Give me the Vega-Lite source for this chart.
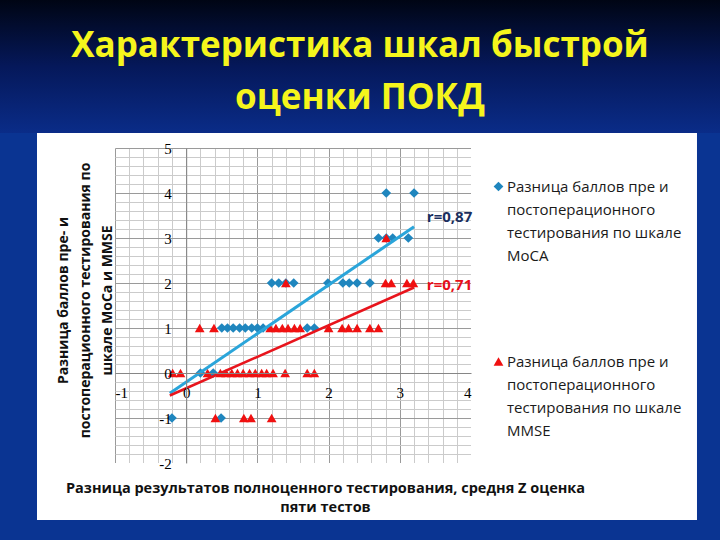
{
  "$schema": "https://vega.github.io/schema/vega-lite/v6.json",
  "width": 356,
  "height": 315,
  "autosize": "none",
  "padding": {"left": 115, "top": 148, "right": 249, "bottom": 77},
  "background": "#0a3492",
  "config": {"view": {"fill": "white", "stroke": null}, "style": {"guide-label": {"lineHeight": 23}}},
  "title": {
    "text": ["Характеристика шкал быстрой", "оценки  ПОКД"],
    "color": "#f5f51c",
    "font": "Open Sans",
    "fontWeight": "bold",
    "fontSize": 35,
    "lineHeight": 52,
    "anchor": "middle",
    "dx": 67,
    "offset": -116
  },
  "datasets": {
    "pts": [
      {"x": 2.81, "y": 4, "series": "MoCA"}, {"x": 3.20, "y": 4, "series": "MoCA"},
      {"x": 2.70, "y": 3, "series": "MoCA"}, {"x": 2.81, "y": 3, "series": "MoCA"}, {"x": 2.90, "y": 3, "series": "MoCA"}, {"x": 3.12, "y": 3, "series": "MoCA"},
      {"x": 1.20, "y": 2, "series": "MoCA"}, {"x": 1.30, "y": 2, "series": "MoCA"}, {"x": 1.40, "y": 2, "series": "MoCA"}, {"x": 1.51, "y": 2, "series": "MoCA"},
      {"x": 1.99, "y": 2, "series": "MoCA"}, {"x": 2.20, "y": 2, "series": "MoCA"}, {"x": 2.29, "y": 2, "series": "MoCA"}, {"x": 2.40, "y": 2, "series": "MoCA"}, {"x": 2.58, "y": 2, "series": "MoCA"},
      {"x": 0.50, "y": 1, "series": "MoCA"}, {"x": 0.58, "y": 1, "series": "MoCA"}, {"x": 0.66, "y": 1, "series": "MoCA"}, {"x": 0.75, "y": 1, "series": "MoCA"}, {"x": 0.83, "y": 1, "series": "MoCA"},
      {"x": 0.92, "y": 1, "series": "MoCA"}, {"x": 1.00, "y": 1, "series": "MoCA"}, {"x": 1.08, "y": 1, "series": "MoCA"}, {"x": 1.70, "y": 1, "series": "MoCA"}, {"x": 1.80, "y": 1, "series": "MoCA"},
      {"x": 0.20, "y": 0, "series": "MoCA"}, {"x": 0.38, "y": 0, "series": "MoCA"},
      {"x": -0.20, "y": -1, "series": "MoCA"}, {"x": 0.49, "y": -1, "series": "MoCA"},
      {"x": 2.81, "y": 3, "series": "MMSE"},
      {"x": 1.40, "y": 2, "series": "MMSE"}, {"x": 2.80, "y": 2, "series": "MMSE"}, {"x": 2.88, "y": 2, "series": "MMSE"}, {"x": 3.10, "y": 2, "series": "MMSE"}, {"x": 3.19, "y": 2, "series": "MMSE"},
      {"x": 0.19, "y": 1, "series": "MMSE"}, {"x": 0.39, "y": 1, "series": "MMSE"}, {"x": 1.18, "y": 1, "series": "MMSE"}, {"x": 1.26, "y": 1, "series": "MMSE"}, {"x": 1.35, "y": 1, "series": "MMSE"},
      {"x": 1.43, "y": 1, "series": "MMSE"}, {"x": 1.52, "y": 1, "series": "MMSE"}, {"x": 1.60, "y": 1, "series": "MMSE"}, {"x": 2.00, "y": 1, "series": "MMSE"}, {"x": 2.19, "y": 1, "series": "MMSE"},
      {"x": 2.28, "y": 1, "series": "MMSE"}, {"x": 2.40, "y": 1, "series": "MMSE"}, {"x": 2.58, "y": 1, "series": "MMSE"}, {"x": 2.70, "y": 1, "series": "MMSE"},
      {"x": -0.19, "y": 0, "series": "MMSE"}, {"x": -0.08, "y": 0, "series": "MMSE"}, {"x": 0.30, "y": 0, "series": "MMSE"}, {"x": 0.48, "y": 0, "series": "MMSE"}, {"x": 0.56, "y": 0, "series": "MMSE"},
      {"x": 0.64, "y": 0, "series": "MMSE"}, {"x": 0.72, "y": 0, "series": "MMSE"}, {"x": 0.80, "y": 0, "series": "MMSE"}, {"x": 0.89, "y": 0, "series": "MMSE"}, {"x": 0.97, "y": 0, "series": "MMSE"},
      {"x": 1.06, "y": 0, "series": "MMSE"}, {"x": 1.13, "y": 0, "series": "MMSE"}, {"x": 1.22, "y": 0, "series": "MMSE"}, {"x": 1.39, "y": 0, "series": "MMSE"}, {"x": 1.70, "y": 0, "series": "MMSE"}, {"x": 1.80, "y": 0, "series": "MMSE"},
      {"x": 0.41, "y": -1, "series": "MMSE"}, {"x": 0.81, "y": -1, "series": "MMSE"}, {"x": 0.91, "y": -1, "series": "MMSE"}, {"x": 1.20, "y": -1, "series": "MMSE"}
    ],
    "trend": [
      {"x": -0.23, "y": -0.45, "series": "MoCA"}, {"x": 3.20, "y": 3.25, "series": "MoCA"},
      {"x": -0.23, "y": -0.50, "series": "MMSE"}, {"x": 3.20, "y": 1.90, "series": "MMSE"}
    ],
    "notes": [
      {"x": 3.38, "y": 3.47, "label": "r=0,87", "series": "MoCA"},
      {"x": 3.38, "y": 1.96, "label": "r=0,71", "series": "MMSE"}
    ],
    "panel": [
      {"x1": -2.0955, "x2": -1, "y1": -3.267, "y2": 5.3333},
      {"x1": 4, "x2": 7.174, "y1": -3.267, "y2": 5.3333},
      {"x1": -1, "x2": 4, "y1": 5, "y2": 5.3333},
      {"x1": -1, "x2": 4, "y1": -3.267, "y2": -2}
    ],
    "sky": [
      {"x1": -2.7, "x2": 7.6, "y1": 5.3333, "y2": 8.2889}
    ]
  },
  "layer": [
    {
      "data": {"name": "sky"},
      "mark": {"type": "rect", "fill": {"gradient": "linear", "x1": 0, "y1": 0, "x2": 0, "y2": 1, "stops": [{"offset": 0, "color": "#000514"}, {"offset": 0.5, "color": "#05185a"}, {"offset": 1, "color": "#0a2c88"}]}},
      "encoding": {
        "x": {"field": "x1", "type": "quantitative", "scale": {"domain": [-1, 4], "nice": false, "zero": false}, "axis": null},
        "x2": {"field": "x2"},
        "y": {"field": "y1", "type": "quantitative", "scale": {"domain": [-2, 5], "nice": false, "zero": false}, "axis": null},
        "y2": {"field": "y2"}
      }
    },
    {
      "data": {"name": "panel"},
      "mark": {"type": "rect", "fill": "white"},
      "encoding": {
        "x": {"field": "x1", "type": "quantitative", "axis": null},
        "x2": {"field": "x2"},
        "y": {"field": "y1", "type": "quantitative", "axis": null},
        "y2": {"field": "y2"}
      }
    },
    {
      "data": {"name": "pts"},
      "mark": {"type": "point", "filled": true, "opacity": 1, "strokeWidth": 0},
      "encoding": {
        "x": {"field": "x", "type": "quantitative",
          "axis": {"orient": "bottom", "values": [-1, -0.8, -0.6, -0.4, -0.2, 0, 0.2, 0.4, 0.6, 0.8, 1, 1.2, 1.4, 1.6, 1.8, 2, 2.2, 2.4, 2.6, 2.8, 3, 3.2, 3.4, 3.6, 3.8, 4],
            "grid": true, "gridColor": {"condition": {"test": "abs(datum.value - round(datum.value)) < 0.01", "value": "#9a9a9a"}, "value": "#cbcbcb"}, "gridWidth": 1,
            "labels": false, "ticks": false, "domain": false, "title": null}},
        "y": {"field": "y", "type": "quantitative",
          "axis": {"orient": "left", "values": [-2, -1.8, -1.6, -1.4, -1.2, -1, -0.8, -0.6, -0.4, -0.2, 0, 0.2, 0.4, 0.6, 0.8, 1, 1.2, 1.4, 1.6, 1.8, 2, 2.2, 2.4, 2.6, 2.8, 3, 3.2, 3.4, 3.6, 3.8, 4, 4.2, 4.4, 4.6, 4.8, 5],
            "grid": true, "gridColor": {"condition": {"test": "abs(datum.value - round(datum.value)) < 0.01", "value": "#9a9a9a"}, "value": "#cbcbcb"}, "gridWidth": 1,
            "labels": false, "ticks": false, "domain": false, "title": null}},
        "color": {"field": "series", "type": "nominal",
          "scale": {"domain": ["MoCA", "MMSE"], "range": ["#1f86be", "#f01010"]},
          "legend": {"orient": "none", "legendX": 376, "legendY": 31, "title": null,
            "labelExpr": "datum.label == 'MoCA' ? ['Разница баллов пре и', 'постоперационного', 'тестирования по шкале', 'MoCA'] : ['Разница баллов пре и', 'постоперационного', 'тестирования по шкале', 'MMSE']",
            "labelFont": "Open Sans", "labelFontSize": 15, "labelColor": "#1a1a1a", "labelLimit": 400, "labelOffset": 1,
            "rowPadding": 90, "symbolSize": 45, "symbolStrokeWidth": 0}},
        "shape": {"field": "series", "type": "nominal",
          "scale": {"domain": ["MoCA", "MMSE"], "range": ["diamond", "triangle-up"]}},
        "size": {"field": "series", "type": "nominal", "scale": {"domain": ["MoCA", "MMSE"], "range": [95, 95]}, "legend": null}
      }
    },
    {
      "data": {"name": "trend"},
      "transform": [{"filter": "datum.series == 'MoCA'"}],
      "mark": {"type": "line", "color": "#2aa5da", "strokeWidth": 3},
      "encoding": {
        "x": {"field": "x", "type": "quantitative",
          "axis": {"orient": "bottom", "offset": -90, "zindex": 1, "values": [-1, 0, 1, 2, 3, 4], "grid": false, "ticks": false, "domain": true, "domainColor": "#868686",
            "labelExpr": "'' + datum.value",
            "labelFont": "Liberation Serif", "labelFontSize": 15, "labelColor": "#000000", "labelPadding": 12,
            "title": ["Разница результатов полноценного тестирования, средня Z оценка", "пяти тестов"],
            "titleFont": "Open Sans", "titleFontWeight": "bold", "titleFontSize": 14.5, "titleColor": "#111111",
            "titleX": 210, "titleY": 115, "titleBaseline": "middle", "titleLineHeight": 19, "titleAlign": "center"}},
        "y": {"field": "y", "type": "quantitative",
          "axis": {"orient": "left", "offset": -71.2, "zindex": 1, "values": [-2, -1, 0, 1, 2, 3, 4, 5], "grid": false, "ticks": false, "domain": true, "domainColor": "#868686",
            "labelExpr": "'' + datum.value",
            "labelFont": "Liberation Serif", "labelFontSize": 15, "labelColor": "#000000", "labelPadding": 15,
            "title": ["Разница баллов пре- и", "постоперационного тестирования по", "шкале MoCa и MMSE"],
            "titleFont": "Open Sans", "titleFontWeight": "bold", "titleFontSize": 14, "titleColor": "#111111",
            "titleX": -123.2, "titleY": 152, "titleBaseline": "middle", "titleLineHeight": 22, "titleAlign": "center", "titleAngle": -90}}
      }
    },
    {
      "data": {"name": "trend"},
      "transform": [{"filter": "datum.series == 'MMSE'"}],
      "mark": {"type": "line", "color": "#e8141c", "strokeWidth": 2.5},
      "encoding": {
        "x": {"field": "x", "type": "quantitative", "axis": null},
        "y": {"field": "y", "type": "quantitative", "axis": null}
      }
    },
    {
      "data": {"name": "notes"},
      "transform": [{"filter": "datum.series == 'MoCA'"}],
      "mark": {"type": "text", "align": "left", "baseline": "middle", "font": "Open Sans", "fontWeight": "bold", "fontSize": 15, "color": "#1b2f5e"},
      "encoding": {
        "x": {"field": "x", "type": "quantitative", "axis": null},
        "y": {"field": "y", "type": "quantitative", "axis": null},
        "text": {"field": "label"}
      }
    },
    {
      "data": {"name": "notes"},
      "transform": [{"filter": "datum.series == 'MMSE'"}],
      "mark": {"type": "text", "align": "left", "baseline": "middle", "font": "Open Sans", "fontWeight": "bold", "fontSize": 15, "color": "#e8101a"},
      "encoding": {
        "x": {"field": "x", "type": "quantitative", "axis": null},
        "y": {"field": "y", "type": "quantitative", "axis": null},
        "text": {"field": "label"}
      }
    }
  ],
  "resolve": {"axis": {"x": "independent", "y": "independent"}}
}
